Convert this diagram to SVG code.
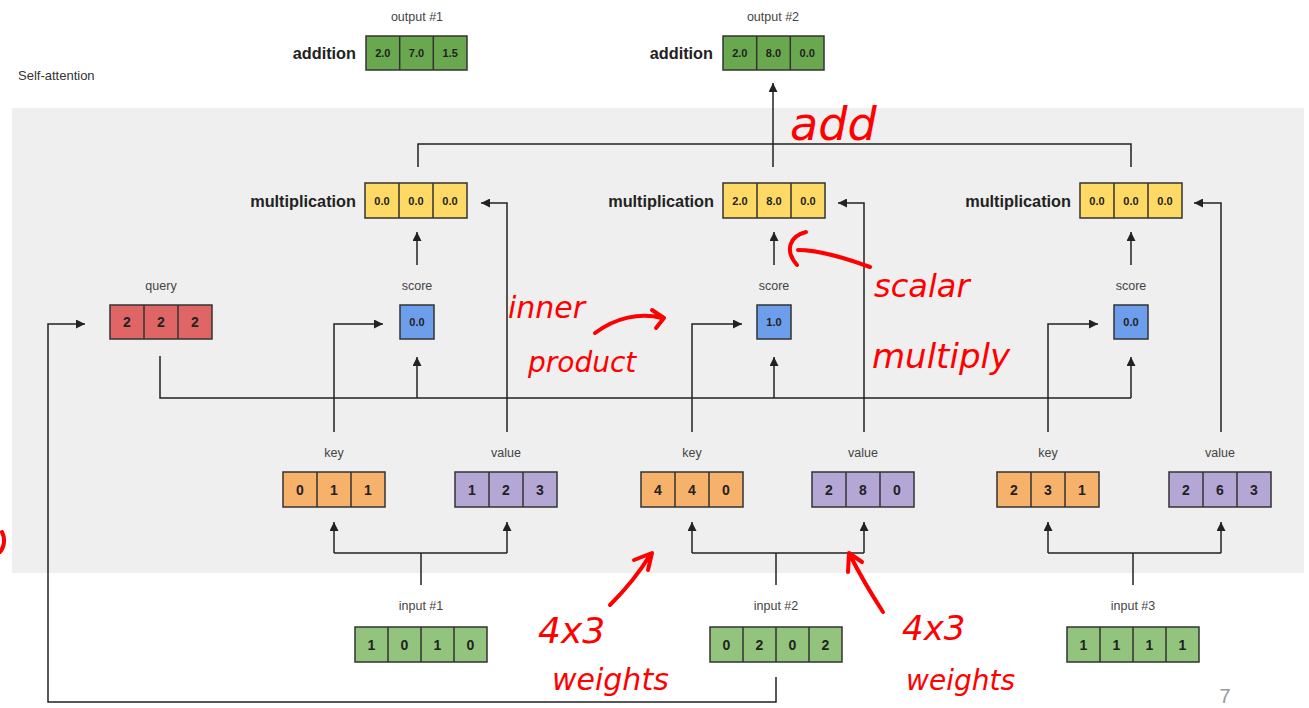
<svg xmlns="http://www.w3.org/2000/svg" width="1309" height="708" viewBox="0 0 1309 708">
<style>
text{font-family:"Liberation Sans",Arial,sans-serif}
.lbl{font-size:12.5px;fill:#444;text-anchor:middle}
.op{font-size:16.3px;font-weight:bold;fill:#222;text-anchor:end;dominant-baseline:central}
.box{stroke:#333;stroke-width:1.5}
.div{stroke:#333;stroke-width:1.5}
.n{font-size:14px;font-weight:bold;fill:#222;text-anchor:middle;dominant-baseline:central}
.d{font-size:11px;font-weight:bold;fill:#222;text-anchor:middle;dominant-baseline:central}
.out{fill:#6aa84f}.inp{fill:#93c47d}.mul{fill:#ffd966}.sc{fill:#6d9eeb}.q{fill:#e06666}.k{fill:#f6b26b}.v{fill:#b4a7d6}
.c{fill:none;stroke:#222;stroke-width:1.5}
.hw{font-family:"DejaVu Sans",sans-serif;font-style:italic;fill:#f00}
.rp{fill:none;stroke:#f00;stroke-width:4;stroke-linecap:round;stroke-linejoin:round}
</style>
<defs>
<marker id="ah" viewBox="0 0 10 10" refX="10" refY="5" markerWidth="10" markerHeight="9" orient="auto" markerUnits="userSpaceOnUse"><path d="M0,0L10,5L0,10z" fill="#222"/></marker>
</defs>
<rect width="1309" height="708" fill="#fff"/>
<rect x="12" y="108" width="1292" height="465" fill="#efefef"/>
<text x="18" y="80" style="font-size:13px;fill:#333">Self-attention</text>

<g id="connectors">
<path class="c" d="M418,167V144H1131V167"/>
<path class="c" d="M773,167V83" marker-end="url(#ah)"/>
<path class="c" d="M507,432V203H481" marker-end="url(#ah)"/>
<path class="c" d="M864,432V203H838" marker-end="url(#ah)"/>
<path class="c" d="M1221,432V203H1194" marker-end="url(#ah)"/>
<path class="c" d="M417,265V232" marker-end="url(#ah)"/>
<path class="c" d="M774,265V232" marker-end="url(#ah)"/>
<path class="c" d="M1131,265V232" marker-end="url(#ah)"/>
<path class="c" d="M334,432V324H383" marker-end="url(#ah)"/>
<path class="c" d="M692,432V324H742" marker-end="url(#ah)"/>
<path class="c" d="M1048,432V324H1098" marker-end="url(#ah)"/>
<path class="c" d="M160,356V398H1131"/>
<path class="c" d="M417,398V357" marker-end="url(#ah)"/>
<path class="c" d="M774,398V357" marker-end="url(#ah)"/>
<path class="c" d="M1131,398V357" marker-end="url(#ah)"/>
<path class="c" d="M776,677V702H48V324H85" marker-end="url(#ah)"/>
<path class="c" d="M421,585V553"/>
<path class="c" d="M334,553H507"/>
<path class="c" d="M334,553V522" marker-end="url(#ah)"/>
<path class="c" d="M507,553V522" marker-end="url(#ah)"/>
<path class="c" d="M776,585V553"/>
<path class="c" d="M692,553H864"/>
<path class="c" d="M692,553V522" marker-end="url(#ah)"/>
<path class="c" d="M864,553V522" marker-end="url(#ah)"/>
<path class="c" d="M1133,585V553"/>
<path class="c" d="M1048,553H1221"/>
<path class="c" d="M1048,553V522" marker-end="url(#ah)"/>
<path class="c" d="M1221,553V522" marker-end="url(#ah)"/>
</g>

<g id="output1">
<text class="lbl" x="417" y="21">output #1</text>
<text class="op" x="356" y="53">addition</text>
<rect class="box out" x="366" y="36" width="101" height="34"/>
<path class="div" d="M399.7,36V70M433.3,36V70"/>
<text class="d" x="382.8" y="53">2.0</text><text class="d" x="416.5" y="53">7.0</text><text class="d" x="450.2" y="53">1.5</text>
</g>
<g id="output2">
<text class="lbl" x="773" y="21">output #2</text>
<text class="op" x="713" y="53">addition</text>
<rect class="box out" x="723" y="36" width="101" height="34"/>
<path class="div" d="M756.7,36V70M790.3,36V70"/>
<text class="d" x="739.8" y="53">2.0</text><text class="d" x="773.5" y="53">8.0</text><text class="d" x="807.2" y="53">0.0</text>
</g>

<g id="mult1">
<text class="op" x="356" y="200.5">multiplication</text>
<rect class="box mul" x="365" y="183" width="102" height="35"/>
<path class="div" d="M399,183V218M433,183V218"/>
<text class="d" x="382" y="200.5">0.0</text><text class="d" x="416" y="200.5">0.0</text><text class="d" x="450" y="200.5">0.0</text>
</g>
<g id="mult2">
<text class="op" x="714" y="200.5">multiplication</text>
<rect class="box mul" x="723" y="183" width="102" height="35"/>
<path class="div" d="M757,183V218M791,183V218"/>
<text class="d" x="740" y="200.5">2.0</text><text class="d" x="774" y="200.5">8.0</text><text class="d" x="808" y="200.5">0.0</text>
</g>
<g id="mult3">
<text class="op" x="1071" y="200.5">multiplication</text>
<rect class="box mul" x="1080" y="183" width="102" height="35"/>
<path class="div" d="M1114,183V218M1148,183V218"/>
<text class="d" x="1097" y="200.5">0.0</text><text class="d" x="1131" y="200.5">0.0</text><text class="d" x="1165" y="200.5">0.0</text>
</g>

<g id="score1">
<text class="lbl" x="417" y="290">score</text>
<rect class="box sc" x="400" y="305" width="34" height="34"/>
<text class="d" x="417" y="322">0.0</text>
</g>
<g id="score2">
<text class="lbl" x="774" y="290">score</text>
<rect class="box sc" x="757" y="305" width="34" height="34"/>
<text class="d" x="774" y="322">1.0</text>
</g>
<g id="score3">
<text class="lbl" x="1131" y="290">score</text>
<rect class="box sc" x="1114" y="305" width="34" height="34"/>
<text class="d" x="1131" y="322">0.0</text>
</g>

<g id="query">
<text class="lbl" x="161" y="290">query</text>
<rect class="box q" x="110" y="305" width="102" height="34"/>
<path class="div" d="M144,305V339M178,305V339"/>
<text class="n" x="127" y="322">2</text><text class="n" x="161" y="322">2</text><text class="n" x="195" y="322">2</text>
</g>

<g id="key1">
<text class="lbl" x="334" y="457">key</text>
<rect class="box k" x="283" y="472" width="102" height="35"/>
<path class="div" d="M317,472V507M351,472V507"/>
<text class="n" x="300" y="489.5">0</text><text class="n" x="334" y="489.5">1</text><text class="n" x="368" y="489.5">1</text>
</g>
<g id="value1">
<text class="lbl" x="506" y="457">value</text>
<rect class="box v" x="455" y="472" width="102" height="35"/>
<path class="div" d="M489,472V507M523,472V507"/>
<text class="n" x="472" y="489.5">1</text><text class="n" x="506" y="489.5">2</text><text class="n" x="540" y="489.5">3</text>
</g>
<g id="key2">
<text class="lbl" x="692" y="457">key</text>
<rect class="box k" x="641" y="472" width="102" height="35"/>
<path class="div" d="M675,472V507M709,472V507"/>
<text class="n" x="658" y="489.5">4</text><text class="n" x="692" y="489.5">4</text><text class="n" x="726" y="489.5">0</text>
</g>
<g id="value2">
<text class="lbl" x="863" y="457">value</text>
<rect class="box v" x="812" y="472" width="102" height="35"/>
<path class="div" d="M846,472V507M880,472V507"/>
<text class="n" x="829" y="489.5">2</text><text class="n" x="863" y="489.5">8</text><text class="n" x="897" y="489.5">0</text>
</g>
<g id="key3">
<text class="lbl" x="1048" y="457">key</text>
<rect class="box k" x="997" y="472" width="102" height="35"/>
<path class="div" d="M1031,472V507M1065,472V507"/>
<text class="n" x="1014" y="489.5">2</text><text class="n" x="1048" y="489.5">3</text><text class="n" x="1082" y="489.5">1</text>
</g>
<g id="value3">
<text class="lbl" x="1220" y="457">value</text>
<rect class="box v" x="1169" y="472" width="102" height="35"/>
<path class="div" d="M1203,472V507M1237,472V507"/>
<text class="n" x="1186" y="489.5">2</text><text class="n" x="1220" y="489.5">6</text><text class="n" x="1254" y="489.5">3</text>
</g>

<g id="input1">
<text class="lbl" x="421" y="610">input #1</text>
<rect class="box inp" x="355" y="627" width="132" height="35"/>
<path class="div" d="M388,627V662M421,627V662M454,627V662"/>
<text class="n" x="371.5" y="644.5">1</text><text class="n" x="404.5" y="644.5">0</text><text class="n" x="437.5" y="644.5">1</text><text class="n" x="470.5" y="644.5">0</text>
</g>
<g id="input2">
<text class="lbl" x="776" y="610">input #2</text>
<rect class="box inp" x="710" y="627" width="132" height="35"/>
<path class="div" d="M743,627V662M776,627V662M809,627V662"/>
<text class="n" x="726.5" y="644.5">0</text><text class="n" x="759.5" y="644.5">2</text><text class="n" x="792.5" y="644.5">0</text><text class="n" x="825.5" y="644.5">2</text>
</g>
<g id="input3">
<text class="lbl" x="1133" y="610">input #3</text>
<rect class="box inp" x="1067" y="627" width="132" height="35"/>
<path class="div" d="M1100,627V662M1133,627V662M1166,627V662"/>
<text class="n" x="1083.5" y="644.5">1</text><text class="n" x="1116.5" y="644.5">1</text><text class="n" x="1149.5" y="644.5">1</text><text class="n" x="1182.5" y="644.5">1</text>
</g>

<text x="1225" y="703" style="font-size:20px;fill:#999;text-anchor:middle">7</text>

<g id="annotations">
<text class="hw" x="790" y="140" style="font-size:46px">add</text>
<text class="hw" x="508" y="318" style="font-size:30px">inner</text>
<text class="hw" x="528" y="372" style="font-size:28px">product</text>
<path class="rp" d="M595,333C615,318 640,312 662,318M652,310L664,318L656,328"/>
<text class="hw" x="874" y="297" style="font-size:32px">scalar</text>
<text class="hw" x="872" y="368" style="font-size:34px">multiply</text>
<path class="rp" d="M870,267C845,258 820,250 798,250M806,232C790,236 784,250 797,265"/>
<text class="hw" x="538" y="643" style="font-size:36px">4x3</text>
<text class="hw" x="552" y="690" style="font-size:30px">weights</text>
<path class="rp" d="M610,605C625,590 638,575 650,555M634,560L652,553L648,570"/>
<text class="hw" x="902" y="640" style="font-size:34px">4x3</text>
<text class="hw" x="906" y="690" style="font-size:28px">weights</text>
<path class="rp" d="M883,612C872,595 860,575 850,555M848,572L849,553L862,562"/>
<path class="rp" d="M2,532C5,538 5,546 0,552"/>
</g>
</svg>
